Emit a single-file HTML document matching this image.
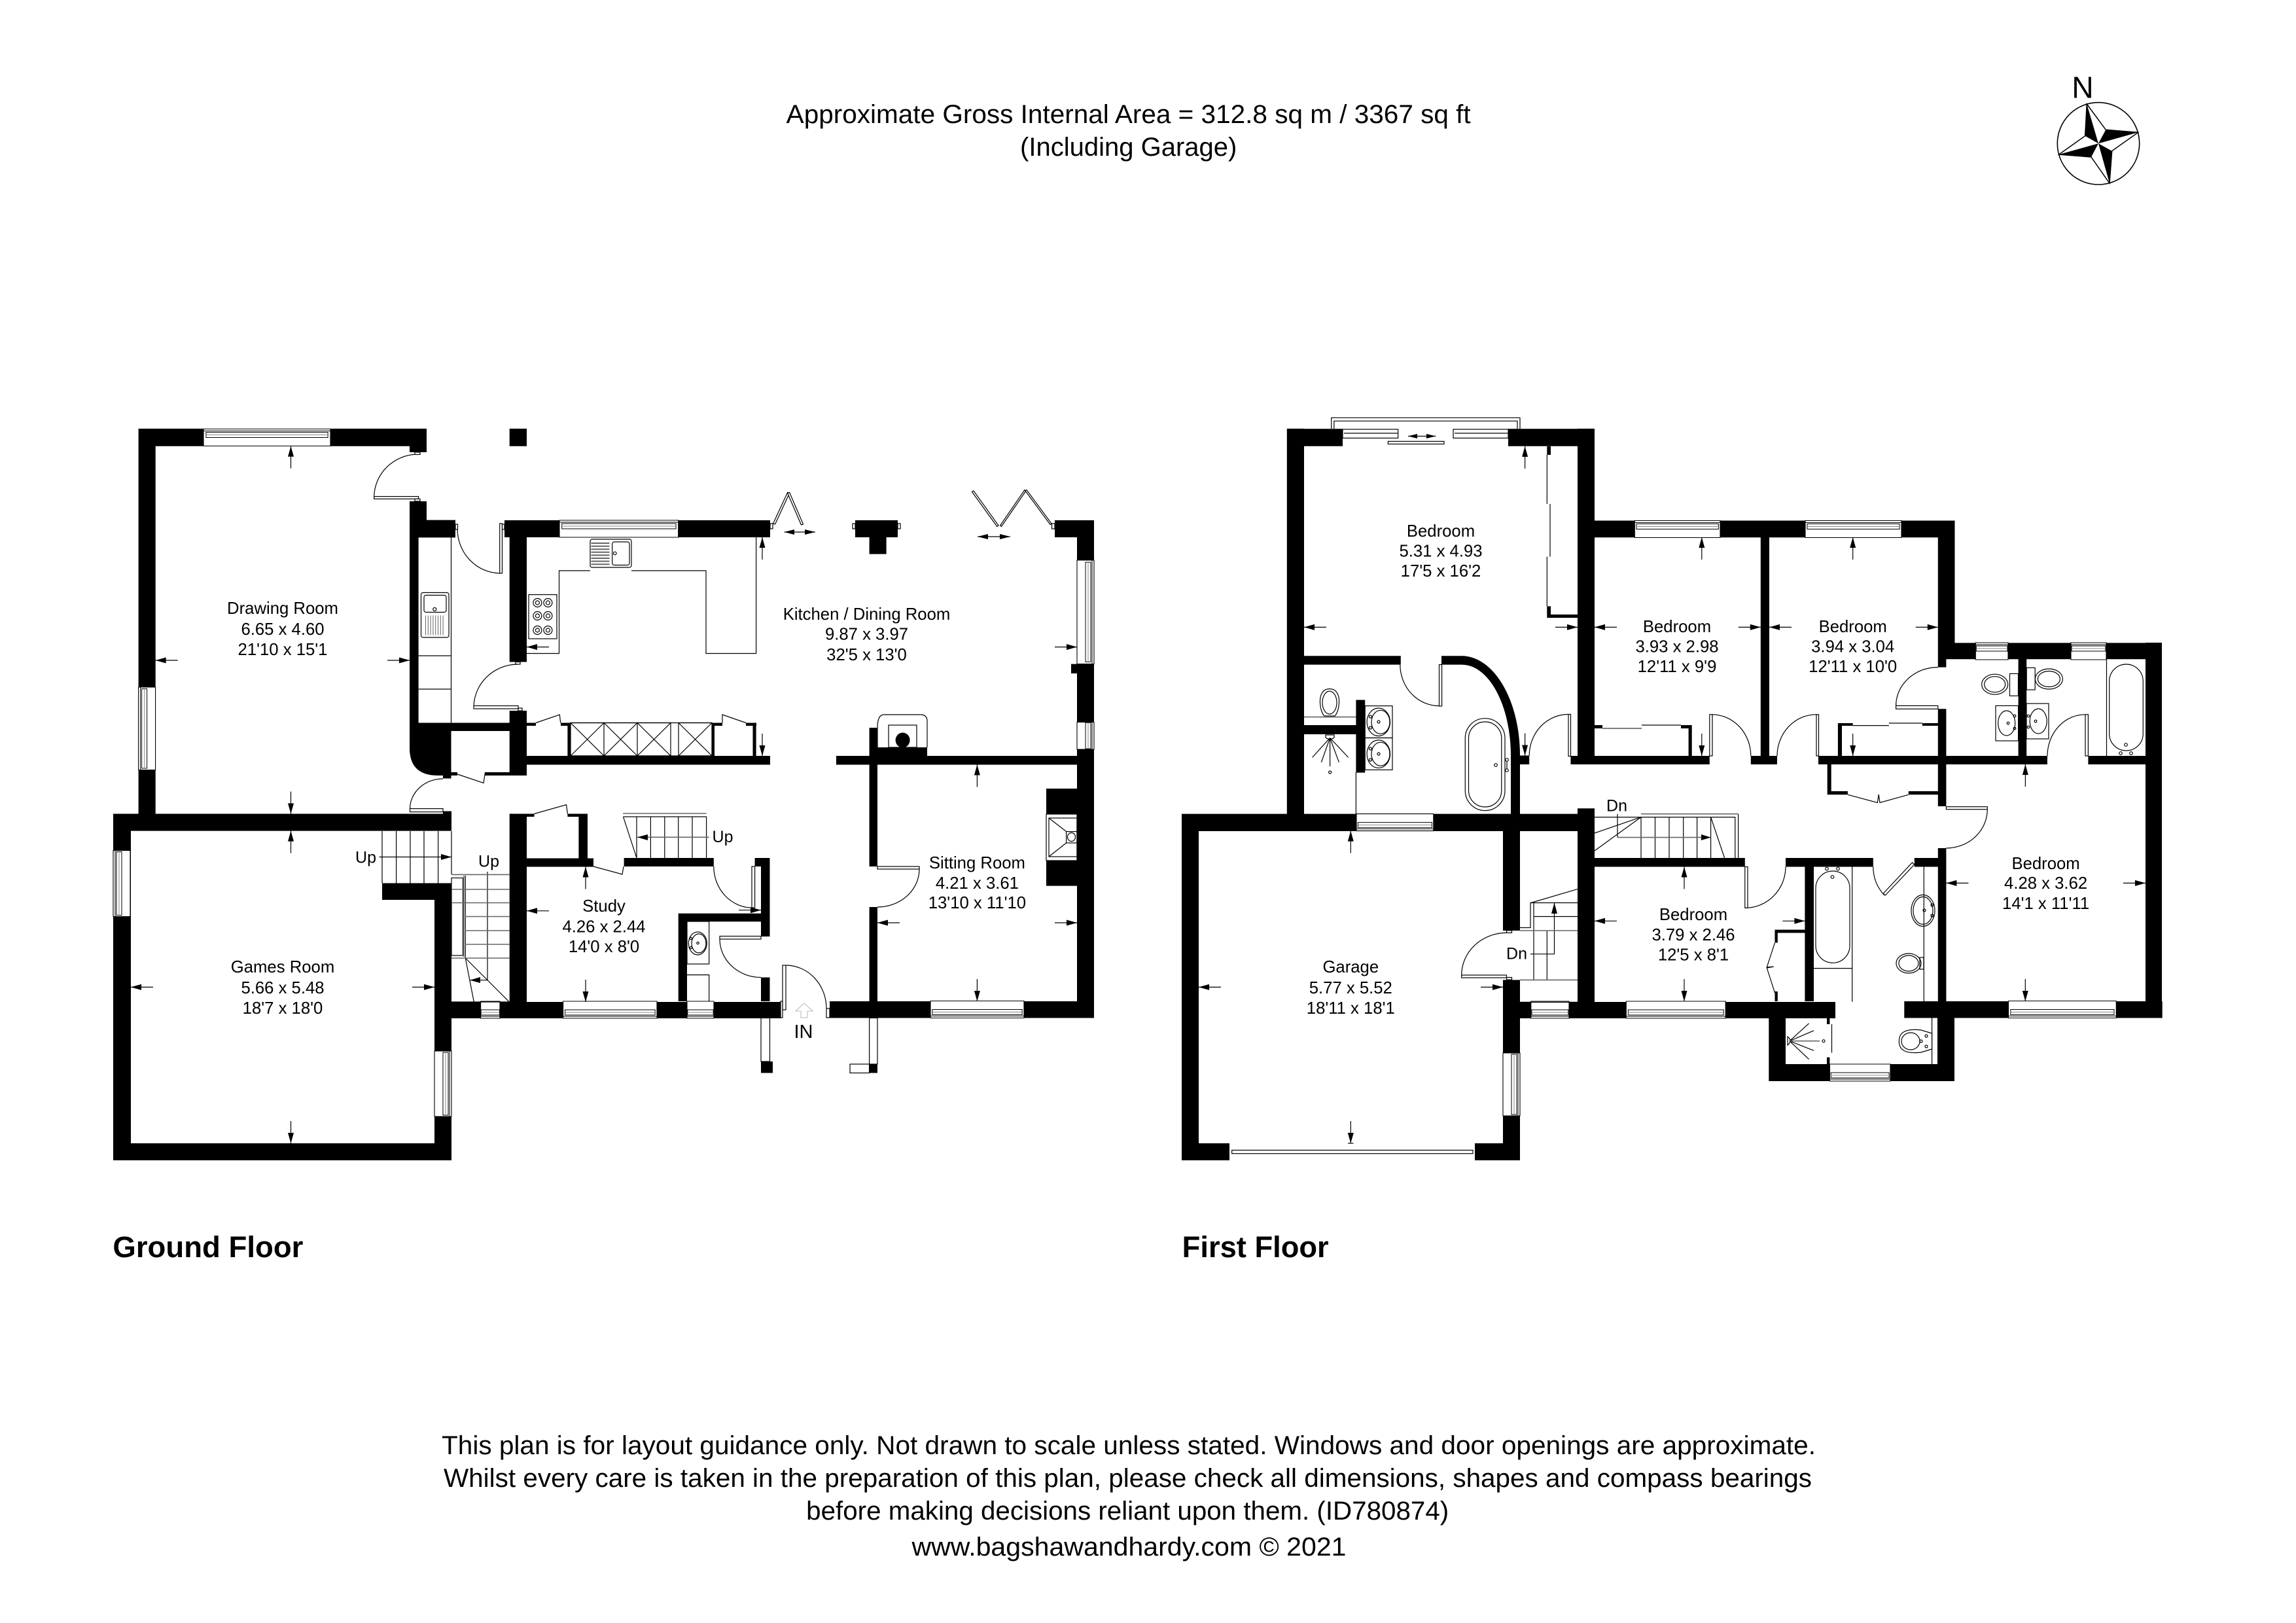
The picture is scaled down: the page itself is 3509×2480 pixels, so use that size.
<!DOCTYPE html>
<html><head><meta charset="utf-8"><style>
html,body{margin:0;padding:0;background:#fff}
svg{display:block}
text{font-family:"Liberation Sans",Arial,sans-serif;font-size:25.7px;fill:#000;text-anchor:middle}
.l{fill:none;stroke:#000;stroke-width:1.2}
.g{fill:none;stroke:#666;stroke-width:1.6}
.d{fill:#fff;stroke:#000;stroke-width:1.2}
</style></head><body>
<svg xmlns="http://www.w3.org/2000/svg" width="3509" height="2480" viewBox="0 0 3509 2480">
<defs>
<g id="a"><path d="M0 0H-34" stroke="#000" stroke-width="1.2" fill="none"/><path d="M0 0L-16 -4.5V4.5Z" fill="#000"/></g>
<g id="w"><rect x="0" y="0" width="1" height="26" fill="#fff" stroke="#000" stroke-width="1.1" vector-effect="non-scaling-stroke"/>
<path d="M0 3H1" stroke="#000" stroke-width="1" vector-effect="non-scaling-stroke"/>
<rect x=".02" y="5" width=".96" height="8" fill="#fff" stroke="#000" stroke-width="1" vector-effect="non-scaling-stroke"/>
<path d="M.02 9H.98" stroke="#888" stroke-width="1" vector-effect="non-scaling-stroke"/></g>
</defs>
<rect width="3509" height="2480" fill="#fff"/>

<!-- Ground floor walls -->
<path fill="#000" d="
M211.6 655H652V681.7H211.6Z M211.6 655H237.7V1244H211.6Z M626 681H652V691H626Z M626 766H652V795H626Z
M626 794.6H696V821.4H626Z M626 821H639.6V1105H626Z
M626 1104.5H689.5V1185H669Q626 1185 626 1143Z M626 1104.5H778.7V1117H626Z M805 1104.5H819V1109H805Z
M778.7 1086H805V1185H778.7Z M741 1180H805V1185H741Z M689.5 1180H699V1185H689.5Z M677 1185H689.5V1189.5H677Z
M805 1155H1177V1168.5H805Z M857 1104.5H872V1109H857Z M867.4 1104.5H872V1155H867.4Z
M1088 1104.5H1104V1109H1088Z M1088 1104.5H1092V1155H1088Z M1140 1104.5H1156V1109H1140Z M1150.5 1104.5H1155.6V1155H1150.5Z
M771 795H1177V821H771Z M778.7 821H805V1011.5H778.7Z M778.7 655H805V681.7H778.7Z
M1307 795H1372V821H1307Z M1328.6 821H1354.6V846.6H1328.6Z
M1612 795H1672V821H1612Z M1646 821H1672V1530H1646Z M1637 1014.6H1672V1029H1637Z
M1278 1155H1672V1168.5H1278Z M1328.6 1112H1341V1155H1328.6Z M1328.6 1142H1417V1155H1328.6Z
M1328.6 1168H1341V1324H1328.6Z M1328.6 1386H1341V1530H1328.6Z
M1599 1205H1646V1353.6H1599Z
M1268 1530H1672V1555.5H1268Z M690 1531H1193V1556H690Z
M1163 1311H1176.5V1431H1163Z M1153.6 1311H1176.5V1324H1153.6Z M1163 1493.5H1176.5V1530H1163Z
M1036.7 1395.7H1176.5V1408.3H1036.7Z M1036.7 1396H1050V1530H1036.7Z
M953.6 1311H1090.8V1324H953.6Z M778.7 1311.5H907V1324.5H778.7Z
M778.7 1243.5H805V1531H778.7Z M778.7 1243.5H816.5V1248H778.7Z M867.4 1243.5H898V1248H867.4Z M884.4 1243.5H898V1311.5H884.4Z
M173 1243.5H690V1269.6H173Z M677 1239.5H690V1243.5H677Z M173 1243.5H200V1773H173Z M173 1747H690V1773H173Z M664 1375H690V1773H664Z M584 1349.5H690V1375H584Z
M1163 1622H1181V1639.5H1163Z M1328.6 1626H1341V1639.5H1328.6Z"/>
<!-- First floor walls -->
<path fill="#000" d="
M1966.8 655.3H2052V681.8H1966.8Z M2305 655.3H2437V681.8H2305Z M1966.8 655H1993V1245H1966.8Z M2411 655H2437V1155H2411Z
M2411 795.5H2987.5V821.2H2411Z M2690.8 821H2704V1155H2690.8Z M2961.8 795.5H2987.5V982.4H2961.8Z
M2961.8 982H2974.4V1019.6H2961.8Z M2974 982.4H3304V1007.3H2974Z M2961.8 1083.3H2974.4V1232H2961.8Z M2961.8 1296H2974.4V1530H2961.8Z
M3084.6 1007.3H3097.2V1155H3084.6Z M3279 982H3304V1555H3279Z
M2400.5 1155H2612.8V1168H2400.5Z M2675.8 1155H2716V1168H2675.8Z M2779 1155H3129V1168H2779Z M3191.4 1155H3304V1168H3191.4Z
M2364.3 682H2370V695H2364.3Z M2364.3 926.4H2370V944H2364.3Z M2364.3 939H2411V944H2364.3Z
M1993 1002.3H2140.8V1015.6H1993Z M2203 1002.3H2233.7V1015.6H2203Z
M2233.7 1002.3A89 152 0 0 1 2323 1154.5H2309A75 139 0 0 0 2233.7 1015.6Z
M2309 1154.5H2323V1245H2309Z M2309 1154.5H2337.2V1168H2309Z
M2437 1108H2449V1113H2437Z M2569 1108H2585.7V1113H2569Z M2580.6 1108H2585.7V1155H2580.6Z
M2072.4 1069.5H2086.2V1180.6H2072.4Z M1993 1108H2072.4V1122H1993Z
M1806 1243.6H2437V1270H1806Z M2411 1235.3H2437V1531H2411Z
M2808.9 1105H2815V1155H2808.9Z M2809 1105H2831.7V1109H2809Z M2937.8 1105H2974V1109H2937.8Z
M2792.7 1168H2798.7V1214H2792.7Z M2792.7 1209H2823.9V1214.3H2792.7Z M2916.8 1209H2961.8V1214.3H2916.8Z
M2437 1311H2666.8V1324.5H2437Z M2729 1311H2862.8V1324.5H2729Z M2925.8 1311H2974.4V1324.5H2925.8Z
M2758.4 1324H2772V1530H2758.4Z
M2323 1531H2805V1556H2323Z M2910.3 1530H3304.7V1555.5H2910.3Z
M2712.5 1420.6H2758.4V1425.5H2712.5Z M2712.5 1420.6H2716.8V1440.5H2712.5Z M2712.5 1515H2716.8V1530H2712.5Z
M2703.3 1555H2729V1652H2703.3Z M2703.3 1626H2987V1652H2703.3Z M2961 1555H2987V1652H2961Z
M2792 1555.5H2796.4V1565H2792Z M2792 1615.6H2796.4V1626H2792Z
M1806 1243.6H1832V1773H1806Z M1806 1747H1879V1773H1806Z M2254 1747H2323V1773H2254Z
M2297 1269.6H2323V1422H2297Z M2297 1497.4H2323V1773H2297Z"/>

<!-- Windows -->
<use href="#w" transform="translate(311,655.5) scale(194,1)"/>
<use href="#w" transform="matrix(0,126.5,1,0,211.6,1050)"/>
<use href="#w" transform="translate(855,795) scale(181.7,1)"/>
<use href="#w" transform="matrix(0,158.6,-1,0,1672,856)"/>
<use href="#w" transform="matrix(0,41.6,-1,0,1672,1103.4)"/>
<use href="#w" transform="matrix(0,100.9,1,0,173,1299.6)"/>
<use href="#w" transform="matrix(0,100,-1,0,690,1606)"/>
<use href="#w" transform="translate(734.6,1556) scale(29.4,-1)"/>
<use href="#w" transform="translate(860.6,1556) scale(143.4,-1)"/>
<use href="#w" transform="translate(1050,1556) scale(41,-1)"/>
<use href="#w" transform="translate(1422,1555.5) scale(143,-1)"/>
<use href="#w" transform="translate(2498.3,795.5) scale(130.7,1)"/>
<use href="#w" transform="translate(2759,795.5) scale(147,1)"/>
<use href="#w" transform="translate(3019.3,982) scale(49.7,1)"/>
<use href="#w" transform="translate(3165,982) scale(54,1)"/>
<use href="#w" transform="translate(2073,1269.6) scale(117.8,-1)"/>
<use href="#w" transform="translate(2339.8,1556) scale(58.2,-1)"/>
<use href="#w" transform="translate(2485.3,1556) scale(151.9,-1)"/>
<use href="#w" transform="translate(3069.5,1555.5) scale(164.8,-1)"/>
<use href="#w" transform="translate(2796.4,1652) scale(92.6,-1)"/>
<use href="#w" transform="matrix(0,96,-1,0,2323,1609)"/>

<!-- Bay window first floor -->
<g class="l">
<path d="M2034.7 655V638.3H2323V655M2038.8 655V643.3H2319V655"/>
<rect x="2052" y="656" width="84.7" height="13.4" class="d"/><rect x="2221" y="656" width="84" height="13.4" class="d"/>
<path d="M2054 662H2136M2223 662H2305"/>
<rect x="2121.4" y="674.4" width="85.6" height="4.1" class="d"/>
<path d="M2152 666.5H2194.4" />
</g>
<path d="M2152 666.5L2166 663V670ZM2194.4 666.5L2180 663V670Z" fill="#000"/>

<!-- Doors -->
<g class="l">
<path d="M639.6 694A68 66 0 0 0 571.7 760"/>
<path d="M699 808A66 68 0 0 0 765 876"/>
<path d="M792 1015A68 66 0 0 0 724 1081"/>
<path d="M677 1190A50.5 46 0 0 0 626.5 1236"/>
<path d="M1405 1328A64 58 0 0 1 1341 1386"/>
<path d="M1201 1475A62 66 0 0 1 1263 1541"/>
<path d="M1090.8 1324A59 63 0 0 0 1150 1387"/>
<path d="M1100 1435A63 58.5 0 0 0 1163 1493.5"/>
<path d="M2139.8 1015.6A59.7 63 0 0 0 2199.5 1078.6"/>
<path d="M2337.2 1154.5A59.8 63 0 0 1 2397 1091.5"/>
<path d="M2616 1091.8A59.8 63.2 0 0 1 2675.8 1155"/>
<path d="M2776 1091.8A60 63.2 0 0 0 2716 1155"/>
<path d="M3187 1091.8A58 63.2 0 0 0 3129 1155"/>
<path d="M2961.8 1019.6A64.2 58.8 0 0 0 2897.6 1078.4"/>
<path d="M3037.3 1236.7A62.9 59.3 0 0 1 2974.4 1296"/>
<path d="M2729 1324.5A62 62.8 0 0 1 2667 1387.3"/>
<path d="M2862.8 1324.5A62 62 0 0 0 2880 1368"/>
<path d="M2302.5 1425.4A68.8 64.6 0 0 0 2233.7 1490"/>
<!-- cupboard doors -->
<path d="M699 1183L739 1196.4L741.4 1181"/>
<path d="M819 1104.5L855.3 1092L856.7 1104.5"/>
<path d="M1104 1104.5V1092L1140 1104.5"/>
<path d="M816.5 1243.5L865.5 1229.7L867.4 1243.5"/>
<path d="M907 1324L951 1336L953 1324"/>
<path d="M2823.9 1214.3L2869.4 1226.5L2871.2 1214L2873 1226.5L2916.8 1214.3"/>
<path d="M2712.5 1440.5L2700.3 1478L2710.7 1477L2700.3 1479L2712.5 1517"/>
</g>
<g class="d">
<rect x="571.7" y="758.6" width="67.9" height="3.8"/><rect x="634" y="691" width="8" height="3.5"/><rect x="634" y="762.4" width="8" height="3.5"/>
<rect x="763.7" y="800" width="3.8" height="76"/><rect x="696" y="801" width="3.5" height="8"/><rect x="767.5" y="801" width="3.5" height="8"/>
<rect x="724" y="1078.5" width="68" height="4.5"/><rect x="788" y="1011.5" width="7" height="3.5"/><rect x="792" y="1082" width="6" height="4"/>
<rect x="626.5" y="1235.6" width="50.5" height="5"/>
<rect x="1341" y="1324" width="64" height="4"/>
<rect x="1196" y="1475" width="5" height="68"/><rect x="1193" y="1530" width="3" height="25"/><rect x="1263" y="1541" width="5" height="14"/>
<rect x="1149" y="1324" width="4.6" height="63"/>
<rect x="1100" y="1430.5" width="63" height="4.5"/>
<rect x="2199.5" y="1015.6" width="4.1" height="63.4"/>
<rect x="2397" y="1091.5" width="3.5" height="64"/>
<rect x="2612.8" y="1091.8" width="4.2" height="63.2"/>
<rect x="2776" y="1091.8" width="3.5" height="63.2"/>
<rect x="3187" y="1091.8" width="4.4" height="63.2"/>
<rect x="2897.6" y="1078.4" width="64.2" height="4.9"/>
<rect x="2974.4" y="1232.7" width="62.9" height="4"/>
<rect x="2666.8" y="1324.5" width="4.2" height="62.8"/>
<rect x="2233.7" y="1490" width="68.8" height="4"/><rect x="2302.5" y="1421.8" width="8" height="3.6"/><rect x="2302.5" y="1493.5" width="8" height="3.6"/>
<path d="M2925.8 1321L2881.4 1368L2878 1365.5L2922.5 1318Z"/>
<!-- bifold doors -->
<path d="M1181.6 800L1203.6 752.5L1206.6 753.5L1184.6 801Z"/>
<path d="M1206.6 752.5L1227.5 801L1224.5 802L1203.6 753.5Z"/>
<path d="M1488 750L1526 803L1523.8 804.5L1485.5 751.5Z"/>
<path d="M1528.6 803L1566 748.6L1568 750L1530.5 804.5Z"/>
<path d="M1569 748.6L1607 800L1605 801.5L1567 750Z"/>
<rect x="1177" y="800" width="4" height="8"/><rect x="1607.5" y="800" width="4.5" height="8"/><rect x="1303" y="800" width="4" height="8"/><rect x="1372" y="800" width="4" height="8"/>
<!-- porch -->
<rect x="1163" y="1555.5" width="13.5" height="66.5"/><rect x="1328.6" y="1555.5" width="12.4" height="70.5"/><rect x="1299" y="1626" width="29.6" height="13.5"/>
<!-- garage door -->
<rect x="1882.7" y="1757.5" width="368.3" height="5.2"/>
</g>
<path d="M1198.5 813H1246M1494 820H1544" class="l"/>
<path d="M1198.5 813L1214 809V817ZM1246 813L1230 809V817ZM1494 820L1510 816V824ZM1544 820L1528 816V824Z" fill="#000"/>
<path d="M1229 1533L1216 1545H1224V1555H1234V1545H1242Z" fill="none" stroke="#bbb" stroke-width="1.1"/>

<!-- Kitchen fittings -->
<g class="l">
<path d="M689.5 821V1104.5M639.6 1002H689.5M639.6 1053H689.5"/>
<rect x="643.5" y="905.5" width="42.5" height="68.5" rx="3"/><rect x="648" y="909.5" width="34" height="26" rx="3"/><circle cx="664.3" cy="931" r="2.5"/>
<rect x="808" y="908.6" width="43" height="67.4"/>
<circle cx="821.4" cy="921" r="6.5"/><circle cx="837.4" cy="921" r="6.5"/><circle cx="821.4" cy="941" r="6.5"/><circle cx="837.4" cy="941" r="6.5"/><circle cx="821.4" cy="963" r="6.5"/><circle cx="837.4" cy="963" r="6.5"/>
<circle cx="821.4" cy="921" r="3"/><circle cx="837.4" cy="921" r="3"/><circle cx="821.4" cy="941" r="3"/><circle cx="837.4" cy="941" r="3"/><circle cx="821.4" cy="963" r="3"/><circle cx="837.4" cy="963" r="3"/>
<path d="M805 998.5H854.5V872H902M965 872H1079V998.5H1155.6V821"/>
<rect x="902" y="824" width="63" height="43" rx="3"/><rect x="935.7" y="828" width="26.3" height="35.5" rx="3"/><circle cx="939.8" cy="845.5" r="2.3"/>
<path d="M872 1104.5H1088M872 1155H1088"/>
<path d="M872 1104.5H923V1155H872ZM872 1104.5L923 1155M923 1104.5L872 1155M923 1104.5H974V1155H923ZM923 1104.5L974 1155M974 1104.5L923 1155M974 1104.5H1025V1155H974ZM974 1104.5L1025 1155M1025 1104.5L974 1155M1037 1104.5H1088V1155H1037ZM1037 1104.5L1088 1155M1088 1104.5L1037 1155"/>
<path d="M1341 1142V1112Q1341 1092 1351 1092H1407Q1417 1092 1417 1102V1142"/>
<rect x="1358" y="1108" width="43" height="34"/>
</g>
<path d="M650 955.5H680" stroke="#666" stroke-width="30" stroke-dasharray="1 2.8" fill="none"/>
<path d="M917.5 829V864" stroke="#666" stroke-width="28" stroke-dasharray="2 2.6" fill="none"/>
<ellipse cx="1379.6" cy="1131" rx="11" ry="11.5" fill="#000"/>

<!-- Sitting room fireplace -->
<g class="l">
<rect x="1599" y="1244" width="47" height="71" fill="#fff"/>
<rect x="1603" y="1250" width="43" height="59"/><rect x="1629.6" y="1270.6" width="16.4" height="17.4"/>
<path d="M1603 1250L1629.6 1270.6M1603 1309L1629.6 1288"/>
<ellipse cx="1637.5" cy="1279" rx="6" ry="6.5"/>
</g>

<!-- WC -->
<g class="l">
<rect x="1050" y="1408" width="33.7" height="65"/>
<path d="M1050 1489.6H1083.7V1530"/>
<ellipse cx="1066.3" cy="1441.5" rx="14" ry="17.5"/><ellipse cx="1068" cy="1441.5" rx="11" ry="14.5"/>
<circle cx="1056" cy="1434" r="1.7"/><circle cx="1056" cy="1448" r="1.7"/><circle cx="1066.5" cy="1441" r="1.7"/>
</g>

<!-- Ground stairs -->
<g class="l">
<path d="M584 1270V1349.5M605.6 1270V1349.5M627 1270V1349.5M648 1270V1349.5M669.6 1270V1349.5M690 1270V1336"/>
<path d="M579.5 1309.5H690"/>
<rect x="690" y="1341.5" width="17.5" height="118.5"/>
<path d="M711.3 1338V1464M745 1332V1498M690 1531H778.7"/>
<path d="M711.3 1464L724.4 1531.4M711.3 1464L778.7 1531.4"/>
<path d="M952.5 1248H1079.6V1311M973 1248V1311M994.4 1248V1311M1015.8 1248V1311M1036.7 1248V1311M1058 1248V1311M952.5 1248L973 1311"/>
</g>
<g class="g">
<path d="M690 1336.4H778.7M690 1359H778.7M690 1379.5H778.7M711 1400.5H778.7M711 1422H778.7M711 1443H778.7M690 1464H778.7M709 1338V1462"/>
<path d="M952 1243H1079.6"/>
<path d="M974 1279.3H1083.7"/>
</g>
<path d="M690 1309.5L674 1305V1314ZM718 1497.7L734 1493V1502ZM974 1279.3L990 1275V1284Z" fill="#000"/>
<path d="M745 1497.7H718" class="l"/>

<!-- Arrows -->
<use href="#a" transform="translate(444.5,681.7) rotate(-90)"/><use href="#a" transform="translate(237.7,1009) rotate(180)"/><use href="#a" transform="translate(626,1009)"/><use href="#a" transform="translate(444.5,1243.5) rotate(90)"/>
<use href="#a" transform="translate(805,988.6) rotate(180)"/><use href="#a" transform="translate(1165,821) rotate(-90)"/><use href="#a" transform="translate(1165,1155) rotate(90)"/><use href="#a" transform="translate(1646,988.6)"/>
<use href="#a" transform="translate(444.5,1269.6) rotate(-90)"/><use href="#a" transform="translate(200,1508.4) rotate(180)"/><use href="#a" transform="translate(664,1508.4)"/><use href="#a" transform="translate(444.5,1747) rotate(90)"/>
<use href="#a" transform="translate(895,1324.5) rotate(-90)"/><use href="#a" transform="translate(805,1391.8) rotate(180)"/><use href="#a" transform="translate(1163,1390.7)"/><use href="#a" transform="translate(895,1531) rotate(90)"/>
<use href="#a" transform="translate(1493.4,1168.5) rotate(-90)"/><use href="#a" transform="translate(1341,1410) rotate(180)"/><use href="#a" transform="translate(1646,1410)"/><use href="#a" transform="translate(1493.4,1530) rotate(90)"/>
<use href="#a" transform="translate(2330.6,682) rotate(-90)"/><use href="#a" transform="translate(1993,958.4) rotate(180)"/><use href="#a" transform="translate(2411,958.4)"/><use href="#a" transform="translate(2330.6,1154.5) rotate(90)"/>
<use href="#a" transform="translate(2600.8,821) rotate(-90)"/><use href="#a" transform="translate(2437,958.4) rotate(180)"/><use href="#a" transform="translate(2690.8,958.4)"/><use href="#a" transform="translate(2600.8,1155) rotate(90)"/>
<use href="#a" transform="translate(2831.7,821) rotate(-90)"/><use href="#a" transform="translate(2704,958.4) rotate(180)"/><use href="#a" transform="translate(2961.8,958.4)"/><use href="#a" transform="translate(2831.7,1155) rotate(90)"/>
<use href="#a" transform="translate(3095.4,1168) rotate(-90)"/><use href="#a" transform="translate(2974.4,1349.4) rotate(180)"/><use href="#a" transform="translate(3279,1349.4)"/><use href="#a" transform="translate(3095.3,1530) rotate(90)"/>
<use href="#a" transform="translate(2574,1324.5) rotate(-90)"/><use href="#a" transform="translate(2437,1407.3) rotate(180)"/><use href="#a" transform="translate(2758.4,1407.3)"/><use href="#a" transform="translate(2574,1530) rotate(90)"/>
<use href="#a" transform="translate(2064.3,1269.6) rotate(-90)"/><use href="#a" transform="translate(1832,1508.4) rotate(180)"/><use href="#a" transform="translate(2297,1508.4)"/><use href="#a" transform="translate(2064.3,1747) rotate(90)"/>
<path d="M2060 1747H2068.5" class="l"/>

<!-- First floor fittings -->
<g class="l">
<path d="M2364.3 695V770M2369 770V850.6M2364.3 850.6V926.4"/>
<path d="M2072.4 1180V1243.6"/>
<path d="M2032 1052.6C2020 1052.6 2017 1064 2017.5 1074C2018 1084 2021 1091 2024 1094H2040C2043 1091 2046 1084 2046.5 1074C2047 1064 2044 1052.6 2032 1052.6Z"/>
<ellipse cx="2032" cy="1073.6" rx="11" ry="17.5"/>
<path d="M2015 1095.6H2049"/>
<rect x="2086.2" y="1078.6" width="41.8" height="48.9"/><rect x="2086.2" y="1127.5" width="41.8" height="48.9"/>
<ellipse cx="2106.8" cy="1103.3" rx="17.7" ry="21.3"/><ellipse cx="2110" cy="1103.3" rx="14" ry="18"/>
<ellipse cx="2106.8" cy="1152.2" rx="17.7" ry="21.3"/><ellipse cx="2110" cy="1152.2" rx="14" ry="18"/>
<circle cx="2094.5" cy="1095" r="2"/><circle cx="2094.5" cy="1112" r="2"/><circle cx="2107" cy="1103" r="2"/>
<circle cx="2094.5" cy="1144" r="2"/><circle cx="2094.5" cy="1161" r="2"/><circle cx="2107" cy="1152" r="2"/>
<path d="M2032.6 1127.5L2005.6 1157.4M2032.6 1127.5L2019.4 1164.8M2032.6 1127.5V1171M2032.6 1127.5L2046.4 1164.8M2032.6 1127.5L2060.7 1157.4"/>
<circle cx="2032.6" cy="1180" r="2"/><path d="M2026 1123H2039V1127Q2033 1132 2026 1127Z"/>
<rect x="2239.3" y="1097.7" width="60.7" height="140.9" rx="30.3"/><rect x="2244.5" y="1103" width="50.3" height="130" rx="25"/>
<circle cx="2286" cy="1169" r="2.3"/><circle cx="2303" cy="1161" r="2.3"/><circle cx="2303" cy="1177" r="2.3"/><path d="M2303 1163V1175"/>
<!-- Bed 2/3 wardrobes -->
<path d="M2449 1113H2509M2509 1108H2569M2831.7 1108.6H2886.8M2886.8 1105H2937.8"/>
<!-- ensuite 2 -->
<rect x="3050" y="1078.4" width="34.6" height="53.6"/><rect x="3097" y="1075" width="34" height="54"/>
<ellipse cx="3066.7" cy="1105" rx="13" ry="19"/><ellipse cx="3115.2" cy="1102" rx="13" ry="19"/>
<circle cx="3079" cy="1094" r="1.8"/><circle cx="3079" cy="1113" r="1.8"/><circle cx="3069" cy="1105" r="1.8"/>
<circle cx="3100" cy="1094" r="1.8"/><circle cx="3100" cy="1111" r="1.8"/><circle cx="3111" cy="1102" r="1.8"/>
<rect x="3071.5" y="1029.4" width="13" height="33.9"/><rect x="3097.2" y="1020.4" width="13" height="33.6"/>
<ellipse cx="3048.7" cy="1045.7" rx="20" ry="15.5"/><ellipse cx="3048.7" cy="1045.7" rx="16" ry="12"/>
<ellipse cx="3131.4" cy="1037.5" rx="21" ry="15.5"/><ellipse cx="3131.4" cy="1037.5" rx="17" ry="12"/>
<path d="M3219.5 1007.3V1155"/>
<rect x="3223.7" y="1015" width="51.6" height="132" rx="25.8"/>
<circle cx="3241" cy="1151" r="2.3"/><circle cx="3257" cy="1151" r="2.3"/><circle cx="3249" cy="1138" r="2.3"/>
<!-- first stairs -->
<path d="M2437 1248.6H2651.8V1311M2656.6 1243.7V1311M2508 1248.6V1311M2529.5 1248.6V1311M2551 1248.6V1311M2572.7 1248.6V1311M2593.6 1248.6V1311M2614.6 1248.6V1311M2614.6 1248.6L2635.6 1311M2508 1248.6L2437 1273M2508 1248.6L2437 1300"/>
<path d="M2472 1243.7V1279.6"/>
<path d="M2339.8 1379.5L2411 1358.6M2323 1417.5H2339V1379.5H2411M2344 1379.5V1497.4M2364.3 1422V1497.4M2344 1400.5H2411M2338.8 1457.8H2375.5V1380"/>
<path d="M2323 1531.4H2411"/>
<!-- bathroom -->
<path d="M2830.7 1324V1530.7M2772 1479.6H2830.7"/>
<rect x="2775" y="1331" width="52" height="140.3" rx="26"/>
<circle cx="2792" cy="1327.5" r="2.3"/><circle cx="2809" cy="1327.5" r="2.3"/><circle cx="2800.5" cy="1340" r="2.3"/>
<path d="M2940.3 1324V1530"/>
<ellipse cx="2939" cy="1391.4" rx="18" ry="24"/><ellipse cx="2939" cy="1391.4" rx="15" ry="21"/>
<circle cx="2953" cy="1383" r="2"/><circle cx="2953" cy="1399" r="2"/><circle cx="2941" cy="1391" r="2"/>
<ellipse cx="2917" cy="1472" rx="19" ry="15"/><ellipse cx="2917" cy="1472" rx="15" ry="12"/><rect x="2934" y="1463" width="6" height="18"/>
<path d="M2952.6 1555.5V1626M2799.5 1565V1608.6"/>
<path d="M2735 1590.7L2764.6 1563.8M2735 1590.7L2772 1574.8M2735 1590.7L2772 1605.3M2735 1590.7L2764.6 1618.6"/>
<path d="M2732 1584Q2740 1590 2732 1597Z"/><circle cx="2787" cy="1590.7" r="2"/>
<path d="M2952.6 1579L2936 1574Q2902 1570 2902.4 1591Q2902 1612 2936 1608L2952.6 1603Z"/><ellipse cx="2920" cy="1591" rx="14" ry="13"/>
<circle cx="2944" cy="1583" r="2"/><circle cx="2944" cy="1599" r="2"/><circle cx="2936" cy="1591" r="2"/>
</g>
<g class="g">
<path d="M2449 1113H2509M1993 1095.6H2072.4"/>
<path d="M2508 1243.7H2656.6M2472 1279.6H2614.6"/>
<path d="M2323 1422H2411M2323 1497.4H2411"/>
<path d="M2735 1590.7H2781"/>
</g>
<path d="M2614.6 1279.6L2600 1275V1284ZM2375.5 1379.5L2371 1396H2380Z" fill="#000"/>

<!-- Compass -->
<circle cx="3207" cy="219.3" r="62.7" class="l" style="stroke-width:1.6"/>
<path class="l" style="stroke-width:1.5" d="M3189.3 159L3218.3 198.3L3267.7 202.3L3227.7 230.7L3224 280L3196 240L3146.7 236L3186.7 207.7Z"/>
<path fill="#000" d="M3189.3 159L3186.7 207.7L3207 219.3ZM3267.7 202.3L3218.3 198.3L3207 219.3ZM3224 280L3227.7 230.7L3207 219.3ZM3146.7 236L3196 240L3207 219.3Z"/>
<text x="3183" y="149.3" style="font-size:46px">N</text>

<!-- Room text -->
<text x="432" y="938">Drawing Room</text><text x="432" y="970">6.65 x 4.60</text><text x="432" y="1001">21'10 x 15'1</text>
<text x="1324.5" y="947">Kitchen / Dining Room</text><text x="1324.5" y="977.5">9.87 x 3.97</text><text x="1324.5" y="1009">32'5 x 13'0</text>
<text x="432" y="1486">Games Room</text><text x="432" y="1518">5.66 x 5.48</text><text x="432" y="1549">18'7 x 18'0</text>
<text x="923" y="1393">Study</text><text x="923" y="1424.5">4.26 x 2.44</text><text x="923" y="1455">14'0 x 8'0</text>
<text x="1493.4" y="1327">Sitting Room</text><text x="1493.4" y="1358">4.21 x 3.61</text><text x="1493.4" y="1388">13'10 x 11'10</text>
<text x="2202" y="820">Bedroom</text><text x="2202" y="850.6">5.31 x 4.93</text><text x="2202" y="881">17'5 x 16'2</text>
<text x="2563" y="966">Bedroom</text><text x="2563" y="996.7">3.93 x 2.98</text><text x="2563" y="1027">12'11 x 9'9</text>
<text x="2831.7" y="966">Bedroom</text><text x="2831.7" y="996.7">3.94 x 3.04</text><text x="2831.7" y="1027">12'11 x 10'0</text>
<text x="3126.6" y="1328">Bedroom</text><text x="3126.6" y="1358">4.28 x 3.62</text><text x="3126.6" y="1389">14'1 x 11'11</text>
<text x="2588" y="1406">Bedroom</text><text x="2588" y="1437">3.79 x 2.46</text><text x="2588" y="1467.3">12'5 x 8'1</text>
<text x="2064.3" y="1486">Garage</text><text x="2064.3" y="1518">5.77 x 5.52</text><text x="2064.3" y="1549">18'11 x 18'1</text>
<text x="559" y="1318.6" style="font-size:25px">Up</text><text x="747" y="1324.5" style="font-size:25px">Up</text><text x="1104.5" y="1287" style="font-size:25px">Up</text>
<text x="2471" y="1239.5" style="font-size:25px">Dn</text><text x="2318" y="1465.7" style="font-size:25px">Dn</text>
<text x="1228" y="1586" style="font-size:29px">IN</text>

<!-- Titles -->
<text x="1724.7" y="188" style="font-size:40px" textLength="1046" lengthAdjust="spacingAndGlyphs">Approximate Gross Internal Area = 312.8 sq m / 3367 sq ft</text>
<text x="1724.7" y="238" style="font-size:40px">(Including Garage)</text>
<text x="172.4" y="1921" style="font-size:45px;font-weight:bold;text-anchor:start" textLength="291" lengthAdjust="spacingAndGlyphs">Ground Floor</text>
<text x="1806.7" y="1921" style="font-size:45px;font-weight:bold;text-anchor:start" textLength="224" lengthAdjust="spacingAndGlyphs">First Floor</text>
<text x="1725" y="2222" style="font-size:40px" textLength="2100" lengthAdjust="spacingAndGlyphs">This plan is for layout guidance only. Not drawn to scale unless stated. Windows and door openings are approximate.</text>
<text x="1723.5" y="2272" style="font-size:40px" textLength="2091" lengthAdjust="spacingAndGlyphs">Whilst every care is taken in the preparation of this plan, please check all dimensions, shapes and compass bearings</text>
<text x="1723.2" y="2322" style="font-size:40px" textLength="982" lengthAdjust="spacingAndGlyphs">before making decisions reliant upon them. (ID780874)</text>
<text x="1725.5" y="2377" style="font-size:40px" textLength="664" lengthAdjust="spacingAndGlyphs">www.bagshawandhardy.com © 2021</text>
</svg>
</body></html>
